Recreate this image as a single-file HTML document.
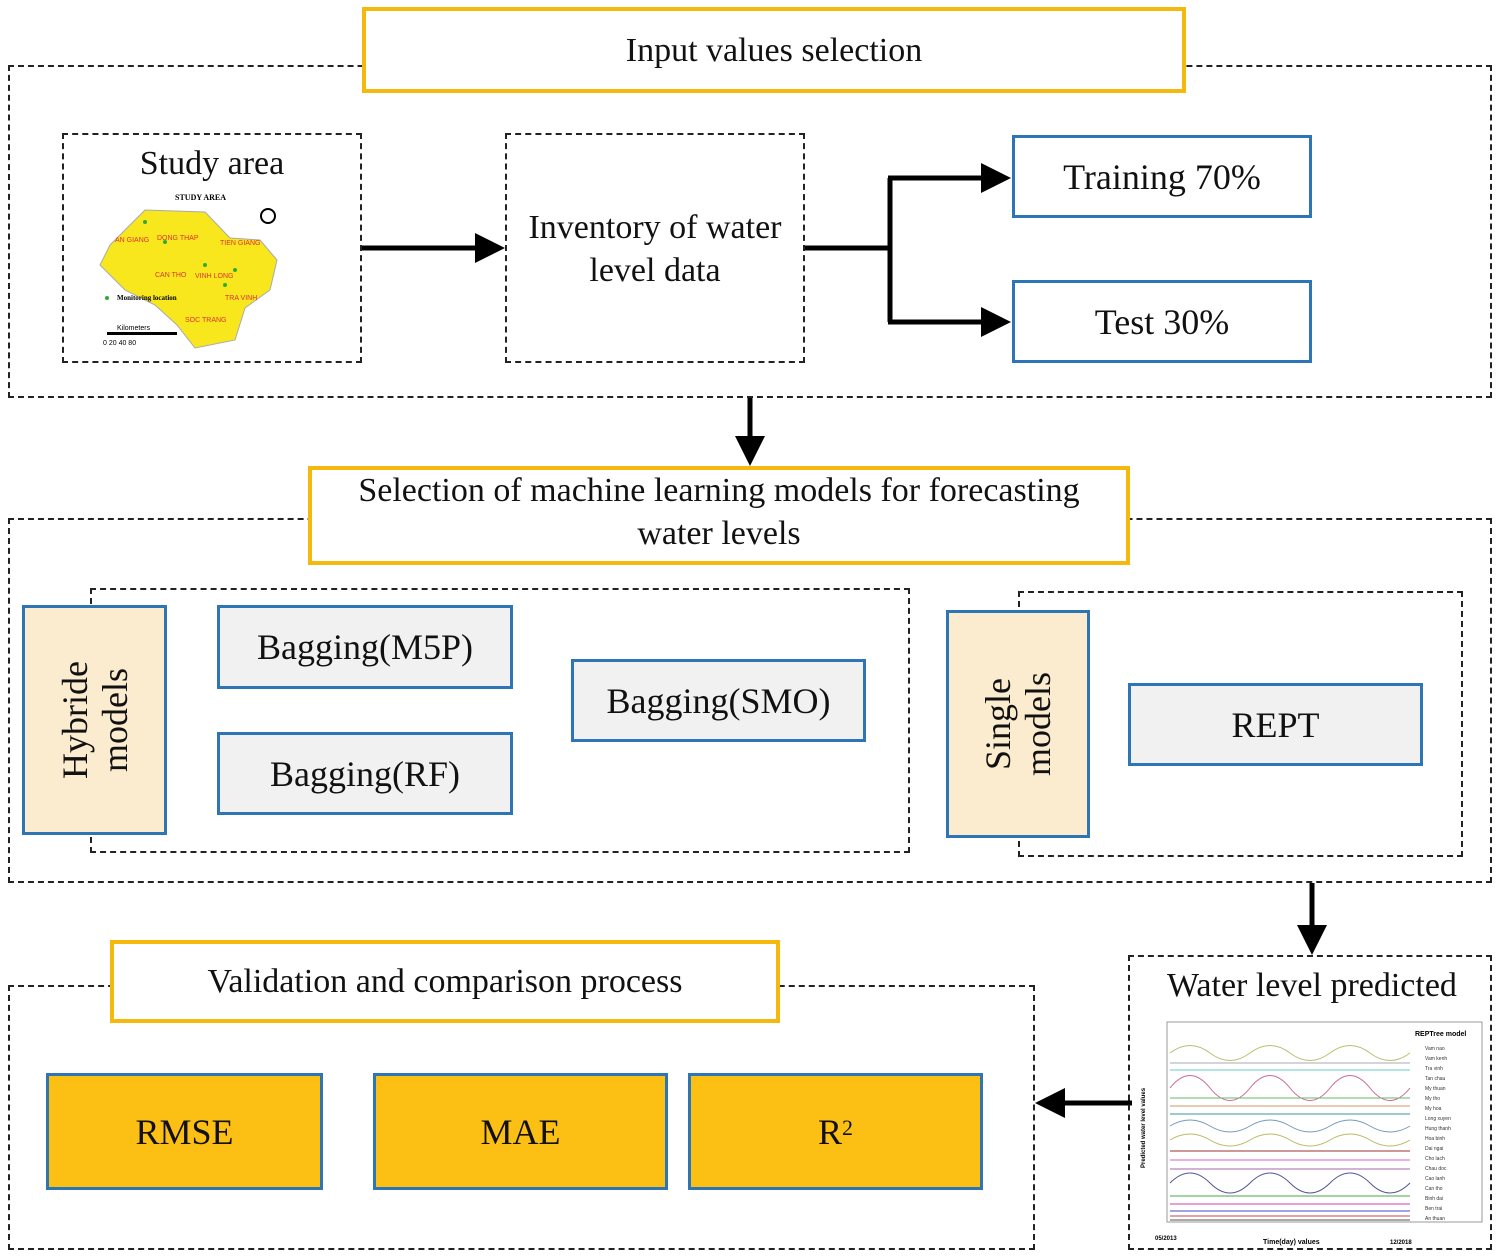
<!DOCTYPE html>
<html><head><style>
body{margin:0;width:1500px;height:1258px;background:#fff;position:relative;overflow:hidden;font-family:"Liberation Serif",serif;color:#111}
.a{position:absolute;box-sizing:border-box}
.d{border:2.5px dashed #222}
.y{border:4px solid #f5b90e;background:#fff;display:flex;align-items:center;justify-content:center;text-align:center;font-size:34px;line-height:43px}
.b{border:3.5px solid #2e75b6;display:flex;align-items:center;justify-content:center;font-size:36px}
.g{background:#f1f1f1}
.o{background:#fcbf14}
.c{background:#fbebcf}
.rot{transform:rotate(-90deg);white-space:nowrap;text-align:center;line-height:40px;font-size:36px}
</style></head><body>
<svg class="a" style="left:0;top:0" width="1500" height="1258">
<defs><marker id="ah" markerWidth="6" markerHeight="6" refX="5" refY="3" orient="auto" markerUnits="strokeWidth"><path d="M0,0L6,3L0,6z" fill="#000"/></marker></defs>
<g stroke="#000" stroke-width="5" fill="none">
<line x1="360" y1="248" x2="500" y2="248" marker-end="url(#ah)"/>
<polyline points="805,248 890,248"/>
<polyline points="890,178 890,322"/>
<line x1="888" y1="178" x2="1006" y2="178" marker-end="url(#ah)"/>
<line x1="888" y1="322" x2="1006" y2="322" marker-end="url(#ah)"/>
<line x1="750" y1="398" x2="750" y2="461" marker-end="url(#ah)"/>
<line x1="1312" y1="883" x2="1312" y2="950" marker-end="url(#ah)"/>
<line x1="1132" y1="1103" x2="1040" y2="1103" marker-end="url(#ah)"/>
</g>
</svg>
<div class="a d" style="left:8px;top:65px;width:1484px;height:333px"></div>
<div class="a y" style="left:362px;top:7px;width:824px;height:86px">Input values selection</div>
<div class="a d" style="left:62px;top:133px;width:300px;height:230px"></div>
<div class="a" style="left:62px;top:145px;width:300px;text-align:center;font-size:34px">Study area</div>
<svg class="a" style="left:95px;top:190px" width="220" height="160">
<text x="80" y="10" font-size="8" font-weight="bold" font-family="Liberation Serif">STUDY AREA</text>
<path d="M15,55 L50,20 L110,22 L135,48 L165,50 L182,70 L175,100 L150,118 L140,150 L100,158 L82,135 L60,115 L30,100 L5,75 Z" fill="#f8e71c" stroke="#aaa"/>
<circle cx="173" cy="26" r="7" fill="none" stroke="#000" stroke-width="2"/>
<g fill="#3a3" ><circle cx="50" cy="32" r="2"/><circle cx="70" cy="52" r="2"/><circle cx="110" cy="75" r="2"/><circle cx="140" cy="80" r="2"/><circle cx="130" cy="95" r="2"/><circle cx="12" cy="108" r="2"/></g>
<g fill="#d33" font-size="7" font-family="Liberation Sans"><text x="20" y="52">AN GIANG</text><text x="62" y="50">DONG THAP</text><text x="125" y="55">TIEN GIANG</text><text x="60" y="87">CAN THO</text><text x="100" y="88">VINH LONG</text><text x="130" y="110">TRA VINH</text><text x="90" y="132">SOC TRANG</text></g>
<text x="22" y="110" font-size="7" font-weight="bold">Monitoring location</text>
<text x="22" y="140" font-size="7" font-family="Liberation Sans">Kilometers</text>
<rect x="12" y="142" width="70" height="3" fill="#000"/>
<text x="8" y="155" font-size="7" font-family="Liberation Sans">0  20  40       80</text>
</svg>
<div class="a d" style="left:505px;top:133px;width:300px;height:230px"></div>
<div class="a" style="left:505px;top:206px;width:300px;text-align:center;font-size:34px;line-height:43px">Inventory of water<br>level data</div>
<div class="a b" style="left:1012px;top:135px;width:300px;height:83px">Training 70%</div>
<div class="a b" style="left:1012px;top:280px;width:300px;height:83px">Test 30%</div>

<div class="a d" style="left:8px;top:518px;width:1484px;height:365px"></div>
<div class="a y" style="left:308px;top:466px;width:822px;height:99px;padding-bottom:8px">Selection of machine learning models for forecasting<br>water levels</div>
<div class="a d" style="left:90px;top:588px;width:820px;height:265px"></div>
<div class="a b c" style="left:22px;top:605px;width:145px;height:230px"><div class="rot">Hybride<br>models</div></div>
<div class="a b g" style="left:217px;top:605px;width:296px;height:84px">Bagging(M5P)</div>
<div class="a b g" style="left:217px;top:732px;width:296px;height:83px">Bagging(RF)</div>
<div class="a b g" style="left:571px;top:659px;width:295px;height:83px">Bagging(SMO)</div>
<div class="a d" style="left:1018px;top:591px;width:445px;height:266px"></div>
<div class="a b c" style="left:946px;top:610px;width:144px;height:228px"><div class="rot">Single<br>models</div></div>
<div class="a b g" style="left:1128px;top:683px;width:295px;height:83px">REPT</div>

<div class="a d" style="left:1128px;top:955px;width:364px;height:295px"></div>
<div class="a" style="left:1128px;top:967px;width:368px;text-align:center;font-size:34px">Water level predicted</div>
<svg class="a" style="left:1135px;top:1018px" width="355" height="230" font-family="Liberation Sans">
<rect x="32" y="4" width="315" height="200" fill="none" stroke="#999"/>
<text x="280" y="18" font-size="7" font-weight="bold">REPTree model</text>
<g fill="none" stroke-width="1">
<path d="M35,35 q20,-15 40,0 t40,0 t40,0 t40,0 t40,0 t40,0" stroke="#b8c070"/>
<path d="M35,45 h240" stroke="#aab"/>
<path d="M35,52 h240" stroke="#6cc"/>
<path d="M35,70 q20,-25 40,0 t40,0 t40,0 t40,0 t40,0 t40,0" stroke="#c69"/>
<path d="M35,80 h240" stroke="#6b6"/><path d="M35,88 h240" stroke="#c96"/><path d="M35,96 h240" stroke="#399"/>
<path d="M35,108 q20,-12 40,0 t40,0 t40,0 t40,0 t40,0 t40,0" stroke="#79b"/>
<path d="M35,122 q20,-12 40,0 t40,0 t40,0 t40,0 t40,0 t40,0" stroke="#bb6"/>
<path d="M35,133 h240" stroke="#933"/><path d="M35,142 h240" stroke="#c6c"/><path d="M35,151 h240" stroke="#a6a"/>
<path d="M35,165 q20,-20 40,0 t40,0 t40,0 t40,0 t40,0 t40,0" stroke="#559"/>
<path d="M35,178 h240" stroke="#4a4"/><path d="M35,186 h240" stroke="#c4a"/><path d="M35,193 h240" stroke="#44c"/><path d="M35,198 h240" stroke="#c44"/><path d="M35,202 h240" stroke="#555"/>
</g>
<g font-size="5" fill="#333"><text x="290" y="32">Vam nao</text><text x="290" y="42">Vam kenh</text><text x="290" y="52">Tra vinh</text><text x="290" y="62">Tan chau</text><text x="290" y="72">My thuan</text><text x="290" y="82">My tho</text><text x="290" y="92">My hoa</text><text x="290" y="102">Long xuyen</text><text x="290" y="112">Hung thanh</text><text x="290" y="122">Hoa binh</text><text x="290" y="132">Dai ngai</text><text x="290" y="142">Cho lach</text><text x="290" y="152">Chau doc</text><text x="290" y="162">Cao lanh</text><text x="290" y="172">Can tho</text><text x="290" y="182">Binh dai</text><text x="290" y="192">Ben trai</text><text x="290" y="202">An thuan</text></g>
<text x="128" y="226" font-size="7" font-weight="bold">Time(day) values</text>
<text x="20" y="222" font-size="6" font-weight="bold">05/2013</text><text x="255" y="226" font-size="6" font-weight="bold">12/2018</text>
<text transform="translate(10,150) rotate(-90)" font-size="6" font-weight="bold">Predicted water level values</text>
</svg>

<div class="a d" style="left:8px;top:985px;width:1027px;height:265px"></div>
<div class="a y" style="left:110px;top:940px;width:670px;height:83px">Validation and comparison process</div>
<div class="a b o" style="left:46px;top:1073px;width:277px;height:117px">RMSE</div>
<div class="a b o" style="left:373px;top:1073px;width:295px;height:117px">MAE</div>
<div class="a b o" style="left:688px;top:1073px;width:295px;height:117px">R<sup style="font-size:22px;position:relative;top:-4px">2</sup></div>
</body></html>
